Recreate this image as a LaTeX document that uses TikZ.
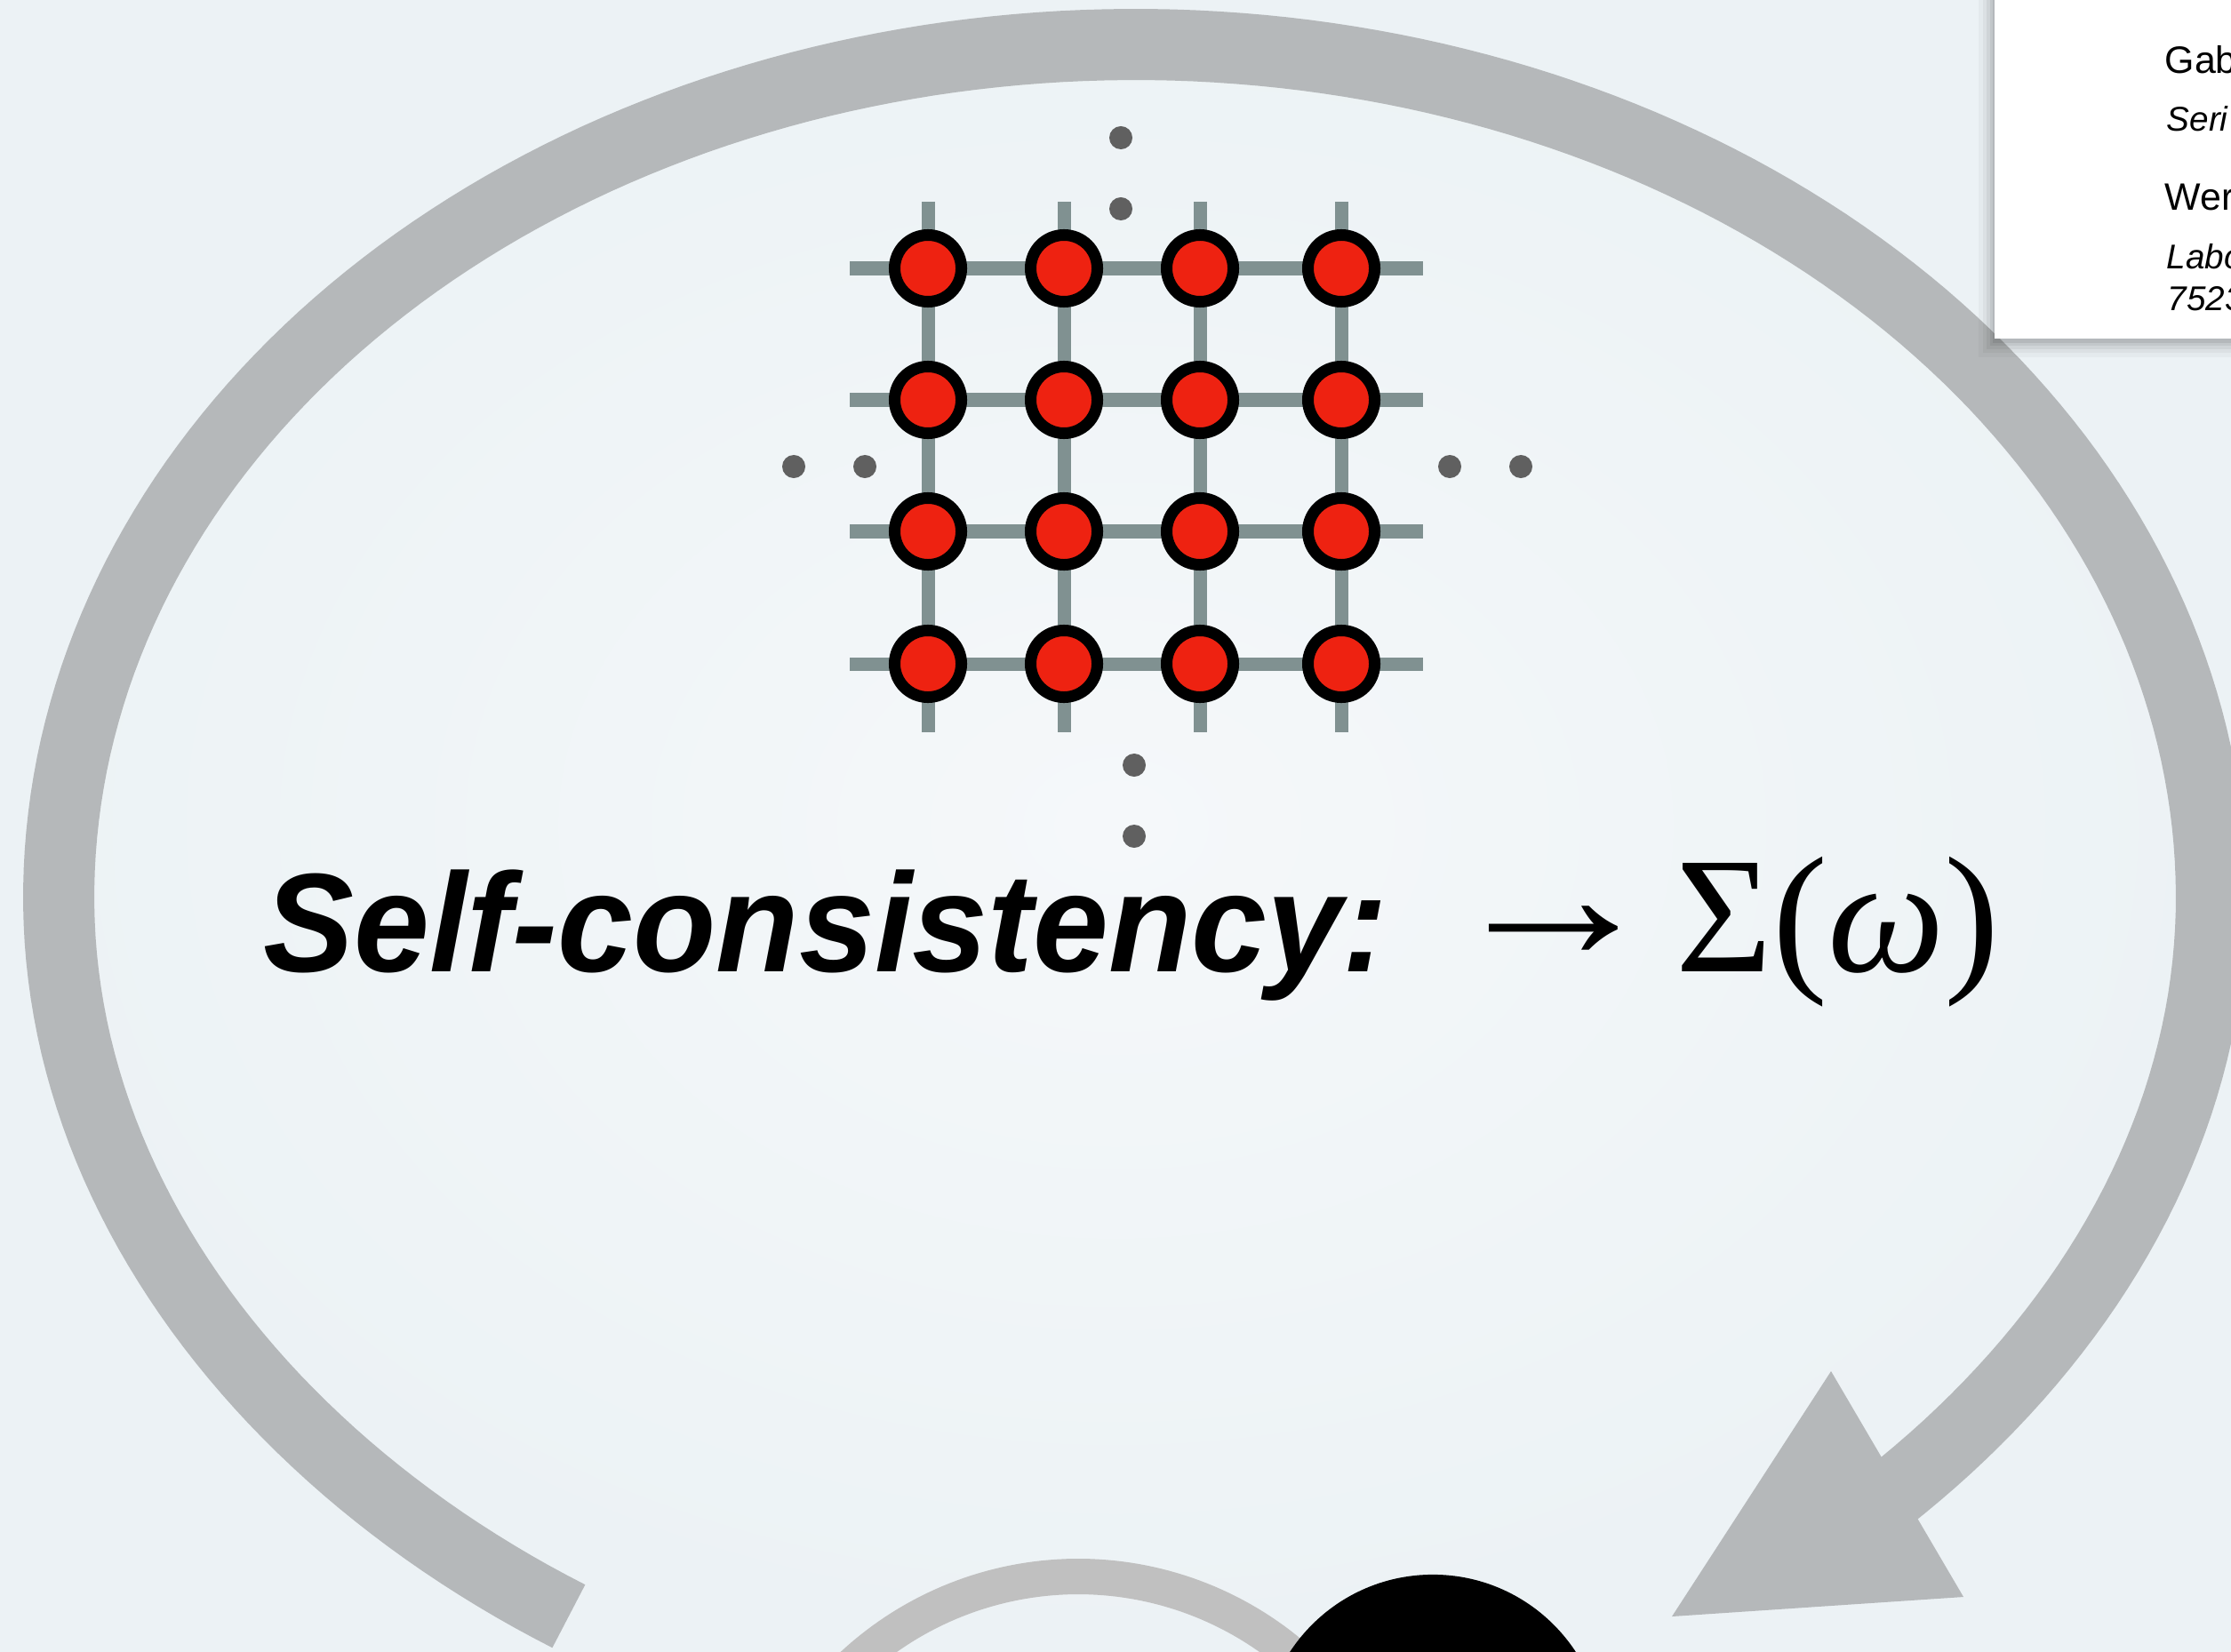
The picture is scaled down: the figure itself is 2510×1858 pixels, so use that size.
\documentclass[tikz,border=0pt]{standalone}
\usepackage{fontspec}
\setmainfont{Liberation Serif}
\newfontfamily\sansf{Liberation Sans}
\definecolor{bgc}{RGB}{236,242,245}
\definecolor{bgl}{RGB}{245,248,250}
\definecolor{ringc}{RGB}{181,184,186}
\definecolor{arcc}{RGB}{192,192,192}
\definecolor{latc}{RGB}{128,145,145}
\definecolor{sitec}{RGB}{238,34,17}
\definecolor{dotc}{RGB}{96,96,96}
\tikzset{
  ring/.style={draw=ringc, line width=0.8cm, line cap=butt, line join=round},
  smallarc/.style={draw=arcc, line width=0.4cm, line cap=butt},
  latline/.style={draw=latc, line width=0.15cm, line cap=butt},
  site/.style={circle, draw=black, fill=sitec, line width=0.13cm, minimum size=0.75cm, inner sep=0pt},
  latdot/.style={circle, fill=dotc, minimum size=0.26cm, inner sep=0pt},
  boxtext/.style={anchor=base west, inner sep=0pt, font=\sansf\fontsize{12.2}{14}\selectfont},
  boxital/.style={anchor=base west, inner sep=0pt, font=\sansf\itshape\fontsize{11}{13}\selectfont},
}
\begin{document}
\begin{tikzpicture}[x=0.01cm,y=-0.01cm]
\useasboundingbox (0,0) rectangle (2510,1858);
\clip (0,0) rectangle (2510,1858);
% background
\fill[bgc] (0,0) rectangle (2510,1858);
\shade[inner color=bgl, outer color=bgc] (0,0) rectangle (2510,1858);
% big self-consistency loop
\draw[ring] plot[domain=122.6:406,samples=240]
  ({1277+1211*cos(\x)-40*cos(\x)*(max(sin(\x),0))^2},{1010+960*sin(\x)});
\coordinate (barbA) at (2060,1543);
\coordinate (tip) at (1881,1819);
\coordinate (barbB) at (2209,1797);
\fill[ringc] (barbA) -- (tip) -- (barbB) -- cycle;
% white paper box with shadow
\foreach \d/\o in {18/0.03,13/0.04,9/0.05,5/0.06,2/0.07}
  \fill[black, opacity=\o] (2244-\d,-20) rectangle (2530,381+\d+3);
\fill[white] (2244,-20) rectangle (2530,381);
\node[boxtext] (l1) at (2435,83) {Gab};
\node[boxital] (l2) at (2437,148) {Seri};
\node[boxtext] (l3) at (2435,237) {Wer};
\node[boxital] (l4) at (2437,303) {Labo};
\node[boxital] (l5) at (2438,350) {7523};
% lattice lines
\foreach \y in {302,450,598,747} \draw[latline] (956,\y) -- (1601,\y);
\foreach \x in {1044,1197,1350,1509} \draw[latline] (\x,227) -- (\x,824);
% lattice sites
\foreach \x [count=\i] in {1044,1197,1350,1509}
  \foreach \y [count=\j] in {302,450,598,747}
    \node[site] (s\i\j) at (\x,\y) {};
% ellipsis dots
\node[latdot] (dt1) at (1261,155) {};
\node[latdot] (dt2) at (1261,235) {};
\node[latdot] (dl1) at (893,525) {};
\node[latdot] (dl2) at (973,525) {};
\node[latdot] (dr1) at (1631,525) {};
\node[latdot] (dr2) at (1711,525) {};
\node[latdot] (db1) at (1276,861) {};
\node[latdot] (db2) at (1276,941) {};
% text
\node[anchor=base west, inner sep=0pt, xscale=0.965, font=\sansf\bfseries\itshape\fontsize{45}{50}\selectfont] (sc) at (296,1093) {Self-consistency:};
\node[anchor=base west, inner sep=0pt, xscale=1.16, font=\fontsize{60}{66}\selectfont] (arr) at (1625,1079) {→};
\node[anchor=base west, inner sep=0pt, font=\fontsize{53}{60}\selectfont] (sig) at (1885,1093) {Σ(\textit{ω})};
% bottom: small arc and black disc
\draw[smallarc] plot[domain=205:335,samples=100] ({1213+373*cos(\x)},{2147+373*sin(\x)});
\node[circle, fill=black, minimum size=3.84cm, inner sep=0pt] (disc) at (1612,1964) {};
\end{tikzpicture}
\end{document}
